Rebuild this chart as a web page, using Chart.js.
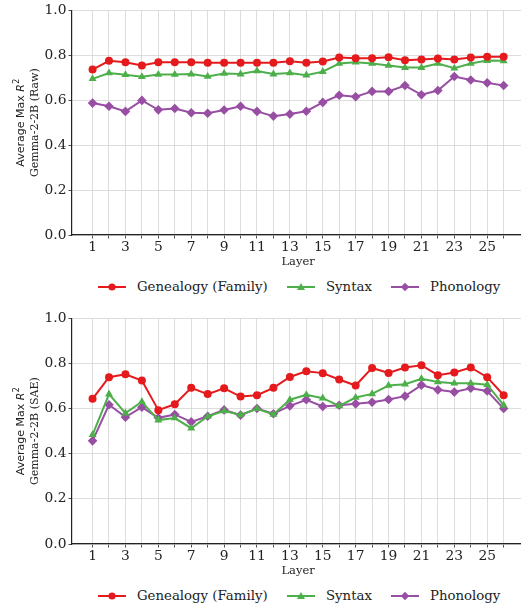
<!DOCTYPE html>
<html>
<head>
<meta charset="utf-8">
<script src="https://cdn.jsdelivr.net/npm/chart.js@4.4.1/dist/chart.umd.min.js"></script>
<style>
  html, body { margin: 0; padding: 0; background: #fff; overflow: hidden; }
  body { width: 521px; height: 608px; position: relative; }
  .wrap { position: absolute; left: 0; width: 529px; }
  .legend { position: absolute; left: 0; width: 521px; height: 20px; font-family: "DejaVu Serif", serif; font-size: 13.3px; color: #222; }
  .legend .item { position: absolute; top: 0; height: 20px; line-height: 20px; white-space: nowrap; }
  .legend svg { position: absolute; top: 4px; }
  .legend span { position: absolute; top: 0; }
</style>
</head>
<body>
<div class="wrap" style="top:0px;height:270px;"><canvas id="c1" width="529" height="270"></canvas></div>
<div class="legend" id="lg1" style="top:277px;"></div>
<div class="wrap" style="top:308px;height:271px;"><canvas id="c2" width="529" height="271"></canvas></div>
<div class="legend" id="lg2" style="top:586px;"></div>
<script>
const layers = [1,2,3,4,5,6,7,8,9,10,11,12,13,14,15,16,17,18,19,20,21,22,23,24,25,26];
const seriesNames = ["Genealogy (Family)", "Syntax", "Phonology"];
const yTicks = [0.0, 0.2, 0.4, 0.6, 0.8, 1.0];

const rawGenealogy = [0.736,0.775,0.769,0.754,0.769,0.769,0.769,0.766,0.766,0.766,0.766,0.766,0.773,0.767,0.772,0.790,0.787,0.787,0.791,0.778,0.781,0.785,0.781,0.790,0.793,0.793];
const rawSyntax    = [0.695,0.721,0.713,0.704,0.714,0.714,0.716,0.705,0.719,0.716,0.730,0.716,0.721,0.711,0.727,0.763,0.769,0.763,0.754,0.745,0.745,0.763,0.742,0.763,0.776,0.775];
const rawPhonology = [0.587,0.573,0.550,0.599,0.557,0.563,0.544,0.542,0.556,0.573,0.550,0.529,0.538,0.551,0.590,0.622,0.615,0.639,0.639,0.665,0.624,0.643,0.705,0.690,0.677,0.665];

const saeGenealogy = [0.643,0.739,0.752,0.724,0.593,0.619,0.692,0.664,0.690,0.653,0.659,0.692,0.740,0.765,0.757,0.729,0.702,0.780,0.758,0.782,0.792,0.748,0.760,0.782,0.739,0.659];
const saeSyntax    = [0.484,0.664,0.580,0.630,0.549,0.558,0.513,0.565,0.590,0.572,0.599,0.574,0.639,0.661,0.646,0.612,0.649,0.665,0.702,0.708,0.732,0.718,0.712,0.712,0.706,0.615];
const saePhonology = [0.457,0.617,0.562,0.606,0.559,0.574,0.541,0.566,0.594,0.571,0.600,0.577,0.612,0.639,0.609,0.615,0.621,0.628,0.640,0.655,0.704,0.683,0.673,0.690,0.678,0.600];

const colors = ["#e41a1c", "#4daf4a", "#984ea3"];
const styles = ["circle", "triangle", "rectRot"];
const radii = [4, 4.6, 4.8];

function makeDatasets(vals) {
  return vals.map((v, i) => ({
    label: seriesNames[i],
    data: layers.map((l, k) => ({x: l, y: v[k]})),
    borderColor: colors[i],
    backgroundColor: colors[i],
    borderWidth: 2,
    pointStyle: styles[i],
    pointRadius: radii[i],
    pointHoverRadius: radii[i],
    pointBorderWidth: 0,
    tension: 0
  }));
}

// y-axis label: line 1 sans with italic R and superscript 2, line 2 serif
const yLabelPlugin = {
  id: "yLabel",
  afterDraw(chart, args, opts) {
    const ctx = chart.ctx;
    const area = chart.chartArea;
    const cy = (area.top + area.bottom) / 2;
    ctx.save();
    ctx.fillStyle = "#222";
    ctx.textBaseline = "middle";
    // line 1
    ctx.save();
    ctx.translate(21, cy);
    ctx.rotate(-Math.PI / 2);
    const f1 = "11px 'DejaVu Sans'";
    const f1i = "italic 11px 'DejaVu Sans'";
    const f1s = "8px 'DejaVu Sans'";
    ctx.font = f1; const wA = ctx.measureText("Average Max ").width;
    ctx.font = f1i; const wR = ctx.measureText("R").width;
    ctx.font = f1s; const w2 = ctx.measureText("2").width;
    let x = -(wA + wR + w2 + 0.5) / 2;
    ctx.textAlign = "left";
    ctx.font = f1; ctx.fillText("Average Max ", x, 0); x += wA;
    ctx.font = f1i; ctx.fillText("R", x, 0); x += wR + 0.5;
    ctx.font = f1s; ctx.fillText("2", x, -4);
    ctx.restore();
    // line 2
    ctx.save();
    ctx.translate(35, cy);
    ctx.rotate(-Math.PI / 2);
    ctx.textAlign = "center";
    ctx.font = "11px 'DejaVu Serif'";
    ctx.fillText(opts.text, 0, 0);
    ctx.restore();
    ctx.restore();
  }
};

function makeChart(id, vals, yLabel2) {
  const gridColor = "#d4d4d4";
  new Chart(document.getElementById(id), {
    type: "line",
    data: { datasets: makeDatasets(vals) },
    plugins: [yLabelPlugin],
    options: {
      responsive: false,
      animation: false,
      events: [],
      layout: { padding: { top: 10, right: 0, bottom: 0, left: 0 } },
      plugins: { legend: { display: false }, tooltip: { enabled: false }, yLabel: { text: yLabel2 } },
      scales: {
        x: {
          type: "linear",
          min: -0.25,
          max: 27.25,
          afterBuildTicks: (axis) => { axis.ticks = layers.map(v => ({ value: v })); },
          afterFit: (axis) => { axis.height = 35; },
          ticks: {
            autoSkip: false,
            maxRotation: 0,
            padding: 1,
            color: "#222",
            font: { family: "DejaVu Serif", size: 13.8 },
            callback: (v) => (v % 2 === 1 ? String(v) : "")
          },
          grid: {
            color: gridColor,
            lineWidth: 0.8,
            borderDash: [2.5, 2.5],
            drawTicks: true,
            tickLength: 3.5,
            tickColor: "#222",
            tickWidth: 0.8,
            tickBorderDash: []
          },
          border: { display: true, color: "#222", width: 1.2 },
          title: {
            display: true,
            text: "Layer",
            color: "#222",
            font: { family: "DejaVu Serif", size: 11.5 },
            padding: { top: 0, bottom: 1 }
          }
        },
        y: {
          min: 0,
          max: 1,
          afterBuildTicks: (axis) => { axis.ticks = yTicks.map(v => ({ value: v })); },
          afterFit: (axis) => { axis.width = 72; },
          ticks: {
            padding: 2,
            color: "#222",
            font: { family: "DejaVu Serif", size: 13.8 },
            callback: (v) => Number(v).toFixed(1)
          },
          grid: {
            color: gridColor,
            lineWidth: 0.8,
            borderDash: [2.5, 2.5],
            drawTicks: true,
            tickLength: 3.5,
            tickColor: "#222",
            tickWidth: 0.8,
            tickBorderDash: []
          },
          border: { display: true, color: "#222", width: 1.2 },
          title: { display: false }
        }
      }
    }
  });
}

makeChart("c1", [rawGenealogy, rawSyntax, rawPhonology], "Gemma-2-2B (Raw)");
makeChart("c2", [saeGenealogy, saeSyntax, saePhonology], "Gemma-2-2B (SAE)");

function markerSvg(i) {
  const c = colors[i];
  let m;
  if (i === 0) m = `<circle cx="14" cy="6" r="3.6" fill="${c}"/>`;
  else if (i === 1) m = `<polygon points="14,2 18,9 10,9" fill="${c}"/>`;
  else m = `<polygon points="14,1.8 18.2,6 14,10.2 9.8,6" fill="${c}"/>`;
  return `<svg width="28" height="12" viewBox="0 0 28 12"><line x1="0" y1="6" x2="28" y2="6" stroke="${c}" stroke-width="2"/>${m}</svg>`;
}
const legendLineX = [98, 287, 391];
const legendTextX = [137, 326, 430];
function buildLegend(id) {
  const el = document.getElementById(id);
  seriesNames.forEach((name, i) => {
    const s = document.createElement("div");
    s.className = "item";
    s.style.left = legendLineX[i] + "px";
    s.innerHTML = markerSvg(i) + `<span style="left:${legendTextX[i] - legendLineX[i]}px">${name}</span>`;
    el.appendChild(s);
  });
}
buildLegend("lg1");
buildLegend("lg2");
</script>
</body>
</html>
